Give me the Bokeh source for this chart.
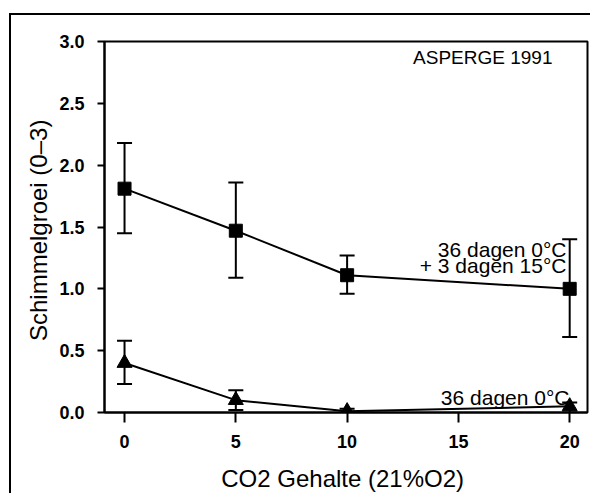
from bokeh.plotting import figure
from bokeh.models import ColumnDataSource, Whisker, TeeHead, Label, FixedTicker, CustomJSTickFormatter
from bokeh.embed import file_html
from bokeh.resources import INLINE

co2 = [0, 5, 10, 20]
mold_warm = [1.81, 1.47, 1.11, 1.00]
warm_lo = [1.45, 1.09, 0.96, 0.61]
warm_hi = [2.18, 1.86, 1.27, 1.40]
mold_cold = [0.40, 0.10, 0.01, 0.05]
cold_lo = [0.23, 0.02, 0.00, 0.00]
cold_hi = [0.58, 0.18, 0.03, 0.08]
x_ticks = [0, 5, 10, 15, 20]
y_ticks = [0.0, 0.5, 1.0, 1.5, 2.0, 2.5, 3.0]

FONT = "Liberation Sans"

p = figure(width=579, height=478, output_backend="svg", toolbar_location=None,
           x_range=(-0.9, 20.8), y_range=(0, 3.0),
           min_border_left=93, min_border_right=5, min_border_top=26, min_border_bottom=83)
p.styles = {"border-left": "2px solid black", "border-top": "2px solid black",
            "margin-left": "9px", "margin-top": "13px",
            "overflow": "hidden", "box-sizing": "content-box"}
p.grid.visible = False
p.outline_line_color = "black"
p.outline_line_width = 2
p.background_fill_color = "white"
p.border_fill_color = "white"

for ax in (p.xaxis[0], p.yaxis[0]):
    ax.axis_line_width = 2
    ax.major_tick_line_width = 2
    ax.minor_tick_line_color = None
    ax.major_label_text_font = FONT
    ax.major_label_text_font_style = "bold"
    ax.major_label_text_font_size = "18px"
    ax.major_label_text_color = "black"
    ax.axis_label_text_font = FONT
    ax.axis_label_text_font_style = "normal"
    ax.axis_label_text_font_size = "24px"
    ax.axis_label_text_color = "black"

p.xaxis.ticker = FixedTicker(ticks=x_ticks)
p.yaxis.ticker = FixedTicker(ticks=y_ticks)
p.yaxis.formatter = CustomJSTickFormatter(code="return tick.toFixed(1)")
p.xaxis.major_tick_out = 10
p.xaxis.major_tick_in = 0
p.yaxis.major_tick_out = 7
p.yaxis.major_tick_in = 0
p.xaxis.major_label_standoff = 12
p.yaxis.major_label_standoff = 13
p.xaxis.axis_label = "CO2  Gehalte (21%O2)"
p.yaxis.axis_label = "Schimmelgroei  (0\u20133)"
p.xaxis.axis_label_standoff = 14
p.yaxis.axis_label_standoff = 4

src_w = ColumnDataSource(dict(x=co2, y=mold_warm, lo=warm_lo, hi=warm_hi))
src_c = ColumnDataSource(dict(x=co2, y=mold_cold, lo=cold_lo, hi=cold_hi))

for src in (src_w, src_c):
    w = Whisker(source=src, base="x", lower="lo", upper="hi", line_width=2, line_color="black",
                lower_head=TeeHead(size=15, line_width=2, line_color="black"),
                upper_head=TeeHead(size=15, line_width=2, line_color="black"))
    p.add_layout(w)

p.line("x", "y", source=src_w, line_width=2, line_color="black")
p.scatter("x", "y", source=src_w, marker="square", size=13, fill_color="black", line_color="black")
p.line("x", "y", source=src_c, line_width=2, line_color="black")
p.scatter("x", "y", source=src_c, marker="triangle", size=15, fill_color="black", line_color="black")

def lab(x, y, t, size="19px"):
    p.add_layout(Label(x=x, y=y, x_units="screen", y_units="screen", text=t,
                       text_font=FONT, text_font_size=size, text_font_style="normal",
                       text_align="right", text_baseline="alphabetic", text_color="black"))

# screen units relative to frame (bottom-left origin)
lab(448, 355, "ASPERGE 1991")
lab(462, 163, "36 dagen 0\u00b0C", "21px")
lab(462, 147, "+ 3 dagen 15\u00b0C", "21px")
lab(465, 15, "36 dagen 0\u00b0C", "21px")

open("out.html", "w").write(file_html(p, INLINE))
